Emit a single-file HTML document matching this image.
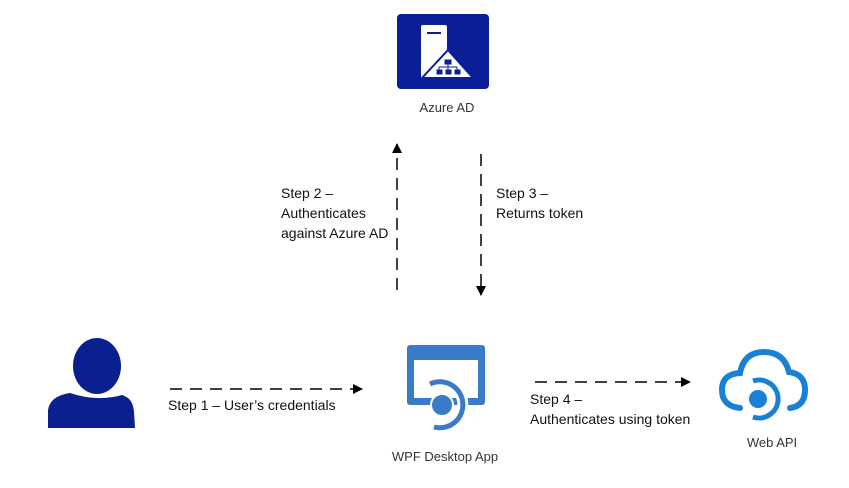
<!DOCTYPE html>
<html><head><style>
body{margin:0;background:#fff;}
svg{display:block}
text{font-family:"Liberation Sans",sans-serif;fill:#111}
.c{font-size:14px}
.l{font-size:13px;fill:#333}
</style></head><body>
<svg width="849" height="488" viewBox="0 0 849 488" xmlns="http://www.w3.org/2000/svg">
<defs>
<marker id="a" markerWidth="10" markerHeight="10" refX="9" refY="5" orient="auto" markerUnits="userSpaceOnUse"><path d="M0,0 L10,5 L0,10 z" fill="#000"/></marker>
</defs>
<!-- Azure AD -->
<rect x="397" y="14" width="92" height="75" rx="4" fill="#0a1e96"/>
<rect x="421" y="25" width="26" height="54" rx="2" fill="#fff"/>
<rect x="427" y="32" width="14" height="2" fill="#0a1e96"/>
<path d="M448 50 L473 78 L422 78 Z" fill="#fff" stroke="#0a1e96" stroke-width="2"/>
<path d="M445 60 h6 v4 h-6z M437 70 h5 v4 h-5z M446 70 h5 v4 h-5z M455 70 h5 v4 h-5z M448 64 v3 M439 67 h18 M439 67 v3 M448 67v3 M457 67v3" fill="#0a1e96" stroke="#0a1e96" stroke-width="1"/>
<text x="447" y="112" text-anchor="middle" class="l">Azure AD</text>
<!-- vertical arrows -->
<line x1="397" y1="290" x2="397" y2="144" stroke="#000" stroke-width="1.5" stroke-dasharray="12,8" marker-end="url(#a)"/>
<line x1="481" y1="154" x2="481" y2="295" stroke="#000" stroke-width="1.5" stroke-dasharray="12,8" marker-end="url(#a)"/>
<text class="c" x="281" y="198">Step 2 –</text>
<text class="c" x="281" y="218">Authenticates</text>
<text class="c" x="281" y="238">against Azure AD</text>
<text class="c" x="496" y="198">Step 3 –</text>
<text class="c" x="496" y="218">Returns token</text>
<!-- user -->
<ellipse cx="97" cy="366" rx="24" ry="28" fill="#0b1f8f"/>
<path d="M48 428 L48 410 Q50 396 70 393 Q97 402 122 395 Q133 398 134 412 L135 428 Z" fill="#0b1f8f"/>
<!-- step1 -->
<line x1="170" y1="389" x2="362" y2="389" stroke="#000" stroke-width="1.5" stroke-dasharray="12,8" marker-end="url(#a)"/>
<text class="c" x="168" y="410">Step 1 – User’s credentials</text>
<!-- WPF -->
<rect x="407" y="345" width="78" height="60" rx="3" fill="#3a7bc8"/>
<rect x="414" y="360" width="64" height="38" fill="#fff"/>
<path d="M430 384 A23 23 0 1 1 434 427" fill="none" stroke="#fff" stroke-width="11"/>
<path d="M430 384 A23 23 0 1 1 434 427" fill="none" stroke="#3a7bc8" stroke-width="5"/>
<circle cx="442" cy="405" r="11" fill="#3a7bc8" stroke="#fff" stroke-width="2"/>
<text x="445" y="461" text-anchor="middle" class="l">WPF Desktop App</text>
<!-- step4 -->
<line x1="535" y1="382" x2="690" y2="382" stroke="#000" stroke-width="1.5" stroke-dasharray="12,8" marker-end="url(#a)"/>
<text class="c" x="530" y="404">Step 4 –</text>
<text class="c" x="530" y="424">Authenticates using token</text>
<!-- Web API -->
<path d="M740 408 Q722 406 722 390 Q722 374 740 373 Q744 352 764 352 Q784 352 789 372 Q805 374 805 390 Q805 406 790 408" fill="none" stroke="#1a7fd6" stroke-width="6" stroke-linecap="round"/>
<path d="M753 381 A19 19 0 1 1 753 417" fill="none" stroke="#1a7fd6" stroke-width="5"/>
<circle cx="758" cy="399" r="9" fill="#1a7fd6"/>
<text x="772" y="447" text-anchor="middle" class="l">Web API</text>
</svg>
</body></html>
